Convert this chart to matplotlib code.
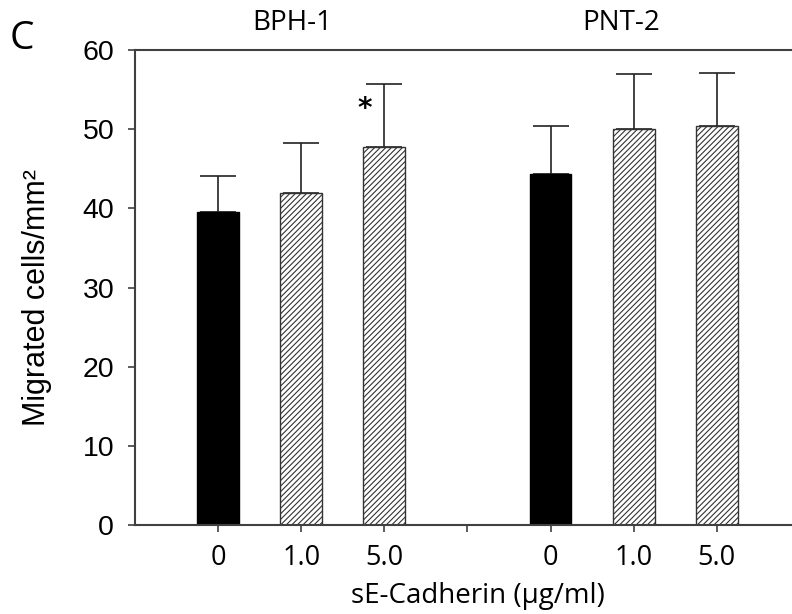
import matplotlib
matplotlib.use("Agg")
import matplotlib.pyplot as plt

groups = ["BPH-1", "PNT-2"]
doses = ["0", "1.0", "5.0"]
bph_means = [39.6, 42.0, 47.8]
bph_err = [4.5, 6.2, 7.9]
pnt_means = [44.4, 50.0, 50.4]
pnt_err = [6.0, 7.0, 6.7]

W, H = 792, 614
plt.rcParams['hatch.linewidth'] = 0.8
fig = plt.figure(figsize=(W / 100, H / 100), dpi=100)
ax = fig.add_axes([135 / W, (H - 525) / H, (W - 135) / W, 475 / H])

pos_b = [1, 2, 3]
pos_p = [5, 6, 7]
w = 0.505
ek = dict(ecolor="#222222", elinewidth=1.2, capsize=13, capthick=1.2)
for xs, means, errs in [(pos_b, bph_means, bph_err), (pos_p, pnt_means, pnt_err)]:
    for i, (x, m, e) in enumerate(zip(xs, means, errs)):
        if i == 0:
            ax.bar(x, m, width=w, color="black", edgecolor="black", zorder=2)
        else:
            ax.bar(x, m, width=w, color="white", edgecolor="#333333", hatch="//////",
                   linewidth=1.0, zorder=2)
        ax.errorbar(x, m, yerr=[[0], [e]], fmt="none", zorder=1, **ek)

ax.set_ylim(0, 60)
ax.set_xlim(0, (W - 135) / 83.1)
ax.set_yticks([0, 10, 20, 30, 40, 50, 60])
ax.set_xticks([1, 2, 3, 4, 5, 6, 7])
ax.set_xticklabels(doses + [""] + doses, fontfamily="Open Sans", fontsize=19.5)
for lab in ax.get_yticklabels():
    lab.set_fontfamily("Liberation Sans")
    lab.set_fontsize(20.5)
ax.tick_params(axis="both", direction="out", length=5, width=1.2, color="#404040")
ax.tick_params(axis="x", pad=8.5)
ax.tick_params(axis="y", pad=10)
for s in ["top", "left", "bottom"]:
    ax.spines[s].set_color("#404040")
    ax.spines[s].set_linewidth(1.5)
ax.spines["right"].set_visible(False)

ax.set_ylabel("Migrated cells/mm²", fontfamily="Liberation Sans", fontsize=22)
ax.yaxis.set_label_coords(52 / W, 1 - 298 / H, transform=fig.transFigure)
ax.set_xlabel("sE-Cadherin (µg/ml)", fontfamily="Open Sans", fontsize=20)
ax.xaxis.set_label_coords(478 / W, 1 - 582 / H, transform=fig.transFigure)

fig.text(10 / W, 1 - 39 / H, "C", fontfamily="Open Sans", fontsize=28, va="center", ha="left")
fig.text(292 / W, 1 - 23 / H, groups[0], fontfamily="Open Sans", fontsize=20, va="center", ha="center")
fig.text(621 / W, 1 - 23 / H, groups[1], fontfamily="Open Sans", fontsize=20, va="center", ha="center")
ax.text(3 - 0.23, 52.5, "*", fontsize=20, ha="center", va="center",
        fontfamily="DejaVu Sans", fontweight="bold")

fig.savefig("out.png", dpi=100)
